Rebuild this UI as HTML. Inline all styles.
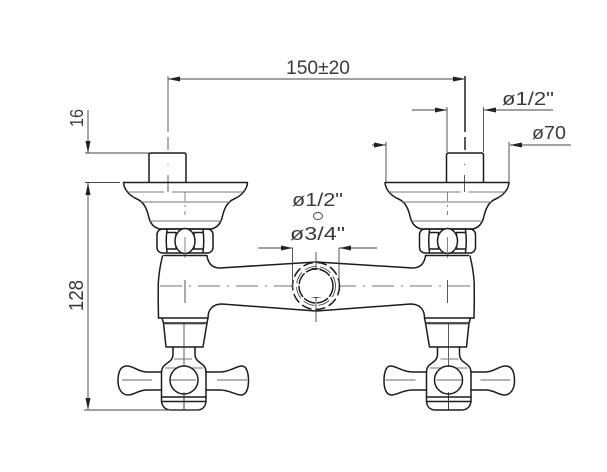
<!DOCTYPE html>
<html>
<head>
<meta charset="utf-8">
<style>
html,body{margin:0;padding:0;background:#fff;width:607px;height:472px;overflow:hidden}
svg{display:block}
text{font-family:"Liberation Sans",sans-serif;fill:#3a3a3a;font-size:18px}
.m{fill:none;stroke:#1c1c1c;stroke-width:1.5;stroke-linejoin:round;stroke-linecap:round}
.t{fill:none;stroke:#333;stroke-width:.8}
.g{fill:none;stroke:#777;stroke-width:.9}
.d{fill:none;stroke:#444;stroke-width:.9}
.c{fill:none;stroke:#444;stroke-width:.8;stroke-dasharray:22 7 2 7}
.a{fill:#222;stroke:none}
</style>
</head>
<body>
<svg width="607" height="472" viewBox="0 0 607 472" xmlns="http://www.w3.org/2000/svg">
<defs>
<g id="as">
  <!-- stem -->
  <path class="m" d="M149 182V155Q149 153 151 153H184Q186 153 186 155V182"/>
  <path class="t" d="M168 76V132M168 137V150M168 164V165M168 175V192"/>
  <!-- flange -->
  <path class="m" d="M123.500 182.500H247.500C247 190 241 196 234 199C227 202 224 209 222 218C220 225 216 228 211 229H160C155 228 151 225 149 218C147 209 144 202 137 199C130 196 124 190 123.500 182.500Z"/>
  <path class="g" d="M128 192H164M172 192H243M141 202H230M150 221H221"/>
  <path class="g" d="M185 192V215" stroke-dasharray="9 4 2 4"/>
  <!-- nut -->
  <rect class="m" x="157" y="229" width="56" height="24" rx="5.500"/>
  <path class="m" d="M167 230Q165.500 241 167 252M203 230Q204.500 241 203 252"/>
  <path class="m" d="M167 232.500H176V249H167M203 232.500H194V249H203"/>
  <ellipse class="m" cx="185" cy="241" rx="10" ry="12.500" fill="#fff" style="fill:#fff"/>
  <path class="g" d="M185 237V258"/>
  <!-- collar -->
  <path class="m" d="M164 255.500H207" stroke-width="2"/>
  <!-- body -->
  <path class="m" d="M162.500 256Q159 270 158.300 283Q158 300 158.500 318"/>
  <path class="m" d="M207 256Q209 268 220 268L316 262"/>
  <path class="m" d="M158.500 318H208C208 309 213 304 222 304L316 311"/>
  <path class="d" d="M185 280V303" />
  <!-- cone -->
  <path class="m" d="M162 318L163.500 323H207L208 318M163.500 323L166 347H203L207 323" stroke-width="1.2"/>
  <path class="g" d="M165 324H205"/>
  <path class="t" d="M184 323V410"/>
  <!-- hub -->
  <path class="m" d="M173 347V354C173 364 162 362 161.500 372V400C161.500 406 165 410 171 410H197C203 410 206 406 206 400V372C206 362 195 364 195 354V347"/>
  <path class="m" d="M161.500 397H206M161.500 401.500H206" stroke-width="1.2"/>
  <path class="g" d="M174 359H192M165 368H203"/>
  <circle class="m" cx="184" cy="380" r="14" style="fill:#fff"/>
  <path class="t" d="M171 380H196M184 392V410"/>
  <!-- handles -->
  <path class="m" d="M161.500 372H147C138 372 134 366 127 366C120 366 118 373 118 381C118 389 122 395 128 395C134 395 138 390 147 390H161.500"/>
  <path class="m" d="M206 372H220C230 372 236 366 242 366C247 366 248.500 374 248.500 381C248.500 389 246 395 241 395C235 395 230 390 220 390H206"/>
  <path class="t" d="M122 380H152M217 380H247"/>
</g>
</defs>

<use href="#as"/>
<use href="#as" transform="translate(632.500 0) scale(-1 1)"/>

<!-- body centre lines -->
<path class="c" d="M160 286H298M334 286H472"/>

<!-- centre port -->
<circle cx="316" cy="286" r="23.500" fill="#fff" stroke="none"/>
<circle class="m" cx="316" cy="286" r="23.500" stroke-dasharray="9 5" stroke-width="1.300"/>
<circle class="t" cx="316" cy="286" r="19.500" stroke-dasharray="12 4"/>
<circle class="m" cx="316" cy="286" r="17" stroke-dasharray="11 3" stroke-width="1"/>
<path class="d" d="M316 252V270M316 298V322"/>
<path class="a" d="M316 269L310 268H322ZM316 297L310 298H322Z"/>
<path class="d" d="M292.500 248V289M339 248V289"/>
<path class="d" d="M258 248H293M339 248H377"/>
<path class="a" d="M292.500 248L281 245.500V250.500ZM339.500 248L351 245.500V250.500Z"/>

<!-- top dimension -->
<path class="d" d="M168 79H465.500M465.500 76V132M465.500 137V150"/>
<path class="a" d="M168 79L180 76.500V81.500ZM465.500 79L453 76.500V81.500Z"/>
<text x="286" y="74" textLength="64" lengthAdjust="spacingAndGlyphs" style="font-size:19px">150±20</text>

<!-- diameter 1/2 right -->
<path class="d" d="M412 110H447M447 107V152M483.500 107V152M484 110H553"/>
<path class="a" d="M447 110L435 107.500V112.500ZM484 110L496 107.500V112.500Z"/>
<text x="502" y="105" textLength="52" lengthAdjust="spacingAndGlyphs">ø1/2"</text>

<!-- diameter 70 -->
<path class="d" d="M372 145H386M386 142V182M509 142V182M510 145H571"/>
<path class="a" d="M386 145L374 142.500V147.500ZM510 145L522 142.500V147.500Z"/>
<text x="532" y="139" textLength="34" lengthAdjust="spacingAndGlyphs">ø70</text>

<!-- centre labels -->
<text x="292" y="206" textLength="51" lengthAdjust="spacingAndGlyphs">ø1/2"</text>
<ellipse class="d" cx="318" cy="216" rx="4.500" ry="3.500"/>
<text x="290" y="240" textLength="55" lengthAdjust="spacingAndGlyphs">ø3/4"</text>

<!-- left dimensions -->
<path class="d" d="M88 110V153M85 153H149M85 182.500H120M88 182.500V409M84 410H200"/>
<path class="a" d="M88 153L85.500 141H90.500ZM88 183L85.500 195H90.500ZM88 410L85.500 398H90.500Z"/>
<text transform="translate(83 127) rotate(-90)" textLength="18" lengthAdjust="spacingAndGlyphs">16</text>
<text transform="translate(83 311) rotate(-90)" textLength="31" lengthAdjust="spacingAndGlyphs" style="font-size:20px">128</text>
</svg>
</body>
</html>
